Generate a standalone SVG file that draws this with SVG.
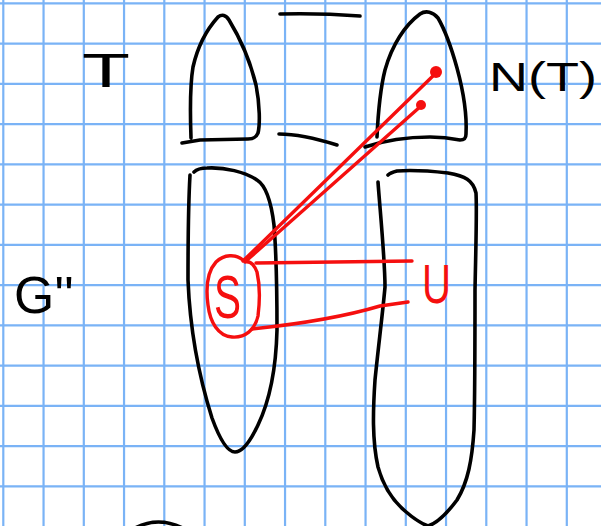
<svg xmlns="http://www.w3.org/2000/svg" width="601" height="526" viewBox="0 0 601 526">
<style>
.grid{stroke:#7ab3f6;stroke-width:2.2;fill:none}
.ink{stroke:#000;stroke-width:3.6;fill:none;stroke-linecap:round;stroke-linejoin:round}
.red{stroke:#f50f0f;stroke-width:3.4;fill:none;stroke-linecap:round;stroke-linejoin:round}
.lbl{font-family:"Liberation Sans","DejaVu Sans",sans-serif;fill:#000}
.rlbl{font-family:"Liberation Sans","DejaVu Sans",sans-serif;fill:#f50f0f}
</style>
<rect width="601" height="526" fill="#fff"/>
<path class="grid" d="M3.3 0V526M43.55 0V526M83.8 0V526M124.05 0V526M164.3 0V526M204.55 0V526M244.8 0V526M285.05 0V526M325.3 0V526M365.55 0V526M405.8 0V526M446.05 0V526M486.3 0V526M526.55 0V526M566.8 0V526M0 3.3H601M0 43.55H601M0 83.8H601M0 124.05H601M0 164.3H601M0 204.55H601M0 244.8H601M0 285.05H601M0 325.3H601M0 365.55H601M0 405.8H601M0 446.05H601M0 486.3H601"/>
<g id="label-T"><text class="lbl" x="82" y="87" font-size="48" textLength="48" lengthAdjust="spacingAndGlyphs">T</text></g>
<g id="label-G"><text class="lbl" x="14" y="313" font-size="52" textLength="60" lengthAdjust="spacingAndGlyphs">G''</text></g>
<g id="label-NT"><text class="lbl" x="489" y="91" font-size="40" textLength="108" lengthAdjust="spacingAndGlyphs">N(T)</text></g>
<g id="T-set">
<path class="ink" d="M191,138 C190,110 190,85 193,67 C198,45 208,28 218,17 C222,14 226,15 229,20 C240,38 250,60 256,85 C260,105 260,125 258,133 C256,138 253,139 248,139 L200,140 L182,143"/>
</g>
<g id="marks">
<path class="ink" d="M280,14 Q320,13 360,16"/>
<path class="ink" d="M279,134 Q302,134 337,145"/>
<path class="ink" d="M130,531 Q158,513 188,531" stroke-width="4"/>
</g>
<g id="NT-set">
<path class="ink" d="M377,137 C378,115 380,90 385,70 C392,45 405,25 420,14 C426,10 433,12 438,18 C445,30 452,50 457,68 C463,90 467,115 466,134 C466,139 464,140 460,140 C450,138 440,137 430,137 C400,137 380,142 365,147"/>
</g>
<g id="G-left">
<path class="ink" d="M190,175 C188,210 188,250 188,280 C190,330 200,380 212,418 C220,440 228,452 235,452 C242,452 250,442 258,425 C270,400 276,370 277,330 C277,290 276,250 274,225 C271,200 265,185 257,180 C245,172 225,167 207,168 C200,168 196,170 194,172"/>
</g>
<g id="G-right">
<path class="ink" d="M378,182 C380,210 385,260 385,287 C383,310 378,350 375,380 C373,410 372,440 378,467 C383,485 392,500 405,511 C413,518 420,523 428,526 C438,523 448,512 457,500 C468,482 472,460 474,430 C475,390 475,330 475,290 C476,240 477,210 476,193 C473,180 465,176 448,173 C430,171 410,170 397,171 C393,172 390,173 388,175"/>
</g>
<g id="S">
<path class="red" d="M243,260 C236,254 224,254 216,262 C207,272 206,290 208,305 C210,322 218,336 232,337 C245,338 255,330 258,316 C260,300 260,285 257,272 C254,264 250,261 245,262"/>
<text class="rlbl" x="214" y="318" font-size="62" textLength="27" lengthAdjust="spacingAndGlyphs">S</text>
</g>
<g id="U">
<text class="rlbl" x="422" y="303" font-size="56" textLength="29" lengthAdjust="spacingAndGlyphs">U</text>
</g>
<g id="connectors">
<path class="red" d="M243,261 L436,73"/>
<circle cx="436" cy="72" r="6" fill="#f50f0f"/>
<path class="red" d="M246,261 L421,106"/>
<circle cx="421" cy="105" r="5" fill="#f50f0f"/>
<path class="red" d="M256,263 L412,261"/>
<path class="red" d="M252,329 C290,325 340,318 380,306 L408,302"/>
</g>
</svg>
